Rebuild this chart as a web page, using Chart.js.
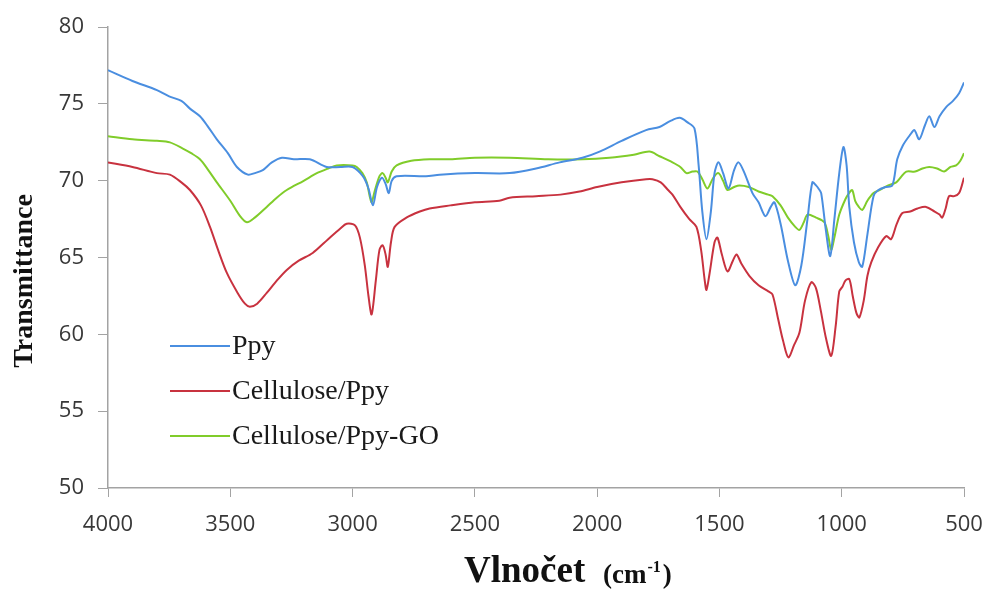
<!DOCTYPE html>
<html>
<head>
<meta charset="utf-8">
<script src="https://cdn.jsdelivr.net/npm/chart.js@4"></script>
<style>
html,body{margin:0;padding:0;background:#fff;}
#wrap{width:988px;height:590px;}
</style>
</head>
<body>
<div id="wrap"><canvas id="ftir" width="988" height="590"></canvas></div>
<script>
/* data: wavenumber (cm-1) and transmittance */
const seriesNames = ["Ppy", "Cellulose/Ppy", "Cellulose/Ppy-GO"];
const xTicks = [4000, 3500, 3000, 2500, 2000, 1500, 1000, 500];
const yTicks = [50, 55, 60, 65, 70, 75, 80];

const ppyWn = [4000,3900,3800,3750,3700,3665,3624,3590,3555,3510,3473,3428,3400,3367,3330,3289,3240,3175,3106,3050,3000,2958,2935,2917,2900,2880,2865,2852,2840,2820,2700,2644,2500,2358,2250,2153,2060,1990,1900,1800,1745,1700,1663,1630,1602,1585,1570,1553,1535,1520,1504,1485,1463,1440,1422,1400,1365,1340,1312,1290,1275,1250,1220,1190,1165,1140,1120,1105,1095,1084,1065,1047,1030,1010,993,980,969,950,930,916,895,870,850,820,793,773,750,720,703,683,660,642,621,600,573,545,520,500];
const ppyT = [77.2,76.5,75.9,75.5,75.2,74.7,74.2,73.5,72.7,71.8,70.9,70.4,70.5,70.7,71.2,71.5,71.4,71.4,70.9,70.9,70.9,70.3,69.5,68.4,69.6,70.2,69.8,69.2,70.0,70.3,70.3,70.4,70.5,70.5,70.8,71.2,71.5,71.9,72.6,73.3,73.5,73.9,74.1,73.8,73.4,71.0,68.0,66.2,68.0,70.5,71.2,70.5,69.5,70.7,71.2,70.6,69.2,68.6,67.7,68.3,68.6,67.2,64.8,63.2,64.5,67.5,69.9,69.7,69.5,69.2,66.8,65.1,67.5,70.5,72.2,71.0,68.3,66.0,64.7,64.4,66.5,69.0,69.4,69.6,69.7,71.4,72.3,73.0,73.3,72.7,73.6,74.2,73.5,74.2,74.8,75.2,75.7,76.4];

const cellWn = [4000,3900,3800,3747,3700,3665,3620,3583,3550,3514,3470,3440,3420,3390,3351,3310,3269,3220,3163,3100,3050,3024,2990,2970,2950,2935,2922,2905,2890,2877,2865,2856,2843,2828,2780,2725,2685,2600,2500,2400,2358,2250,2150,2072,2000,1900,1800,1774,1740,1710,1692,1660,1623,1594,1575,1560,1553,1540,1520,1508,1490,1467,1445,1430,1410,1377,1340,1300,1283,1260,1240,1218,1195,1173,1150,1124,1105,1085,1065,1043,1025,1010,997,985,969,955,940,928,910,895,879,850,818,798,775,752,720,690,655,620,600,589,575,561,540,520,500];
const cellT = [71.2,70.9,70.5,70.4,69.9,69.4,68.4,67.0,65.5,64.0,62.7,62.0,61.8,62.0,62.7,63.5,64.2,64.8,65.3,66.2,66.9,67.2,67.1,66.3,64.5,62.5,61.3,63.5,65.5,65.8,65.2,64.4,66.0,67.0,67.6,68.0,68.2,68.4,68.6,68.7,68.9,69.0,69.1,69.3,69.6,69.9,70.1,70.1,69.9,69.4,69.1,68.3,67.5,67.0,65.5,63.5,62.9,64.0,66.0,66.3,65.2,64.1,64.8,65.2,64.6,63.8,63.2,62.8,62.6,61.0,59.6,58.5,59.3,60.1,62.2,63.4,63.0,61.5,59.8,58.6,60.5,62.8,63.1,63.5,63.6,62.5,61.4,61.1,62.2,63.8,64.7,65.7,66.4,66.2,67.2,67.9,68.0,68.2,68.3,68.0,67.8,67.6,68.2,69.0,69.0,69.2,70.2];

const goWn = [4000,3900,3800,3747,3694,3660,3624,3590,3555,3500,3460,3432,3400,3351,3310,3269,3200,3146,3100,3065,3000,2983,2960,2942,2930,2922,2910,2890,2877,2865,2856,2840,2820,2760,2685,2600,2500,2358,2200,2060,1950,1850,1786,1745,1692,1660,1635,1610,1590,1570,1549,1525,1504,1485,1467,1440,1418,1380,1340,1300,1283,1250,1220,1190,1173,1155,1140,1105,1071,1055,1043,1030,1010,985,970,957,945,930,916,895,870,846,810,777,760,736,700,670,642,610,581,555,532,515,500];
const goT = [72.9,72.7,72.6,72.5,72.1,71.8,71.4,70.7,69.9,68.7,67.7,67.3,67.6,68.3,68.9,69.4,70.0,70.5,70.8,71.0,71.0,70.9,70.5,69.9,69.0,68.6,69.3,70.3,70.5,70.2,69.9,70.6,71.0,71.3,71.4,71.4,71.5,71.5,71.4,71.4,71.5,71.7,71.9,71.6,71.2,70.9,70.5,70.6,70.6,70.1,69.5,70.2,70.5,70.0,69.4,69.6,69.7,69.6,69.3,69.1,69.0,68.4,67.6,67.0,66.8,67.3,67.8,67.6,67.3,66.4,65.5,66.3,67.8,68.8,69.2,69.4,68.7,68.3,68.1,68.7,69.2,69.4,69.7,69.9,70.2,70.6,70.6,70.8,70.9,70.8,70.6,70.9,71.0,71.3,71.8];

const colors = ["#4a8ee0", "#c8323f", "#80cc2a"];

function pts(wn, t){
  return wn.map((w,i)=>({x:w, y:t[i]}));
}

const axisGray = "#a3a3a3";
const tickFont = {family:"'Open Sans', sans-serif", size:22};

/* legend and axis titles drawn by hand to sit where the original has them */
const extras = {
  id:"extras",
  afterDraw(chart){
    const c = chart.ctx;
    c.save();
    // legend
    const rows = [346, 391, 436];
    chart.data.datasets.forEach((ds,i)=>{
      c.strokeStyle = ds.borderColor;
      c.lineWidth = 2;
      c.beginPath();
      c.moveTo(170, rows[i]);
      c.lineTo(230, rows[i]);
      c.stroke();
      c.fillStyle = "#1a1a1a";
      c.font = "28px 'Liberation Serif', serif";
      c.textBaseline = "middle";
      c.textAlign = "left";
      c.fillText(ds.label, 232, rows[i]+1);
    });
    // y title
    c.fillStyle = "#111";
    c.translate(25, 281);
    c.rotate(-Math.PI/2);
    c.font = "bold 28px 'Liberation Serif', serif";
    c.textAlign = "center";
    c.textBaseline = "middle";
    c.fillText("Transmittance", 0, 0);
    c.setTransform(1,0,0,1,0,0);
    // x title
    c.textAlign = "left";
    c.textBaseline = "alphabetic";
    c.font = "bold 37px 'Liberation Serif', serif";
    c.fillText("Vlnočet", 464, 582);
    c.font = "bold 27px 'Liberation Serif', serif";
    c.fillText("(cm", 603, 583);
    let w = c.measureText("(cm").width;
    c.font = "bold 16px 'Liberation Serif', serif";
    c.fillText("-1", 603+w+1, 572);
    let w2 = c.measureText("-1").width;
    c.font = "bold 27px 'Liberation Serif', serif";
    c.fillText(")", 603+w+w2+3, 583);
    c.restore();
  }
};

new Chart(document.getElementById("ftir"),{
  type:"line",
  data:{
    datasets:[
      {label:seriesNames[0], data:pts(ppyWn, ppyT), borderColor:colors[0]},
      {label:seriesNames[1], data:pts(cellWn, cellT), borderColor:colors[1]},
      {label:seriesNames[2], data:pts(goWn, goT), borderColor:colors[2]}
    ]
  },
  options:{
    responsive:false,
    animation:false,
    devicePixelRatio:1,
    layout:{padding:{top:25, right:24, left:0, bottom:0}},
    elements:{
      line:{borderWidth:2, tension:0.3},
      point:{radius:0}
    },
    plugins:{
      legend:{display:false},
      tooltip:{enabled:false}
    },
    scales:{
      x:{
        type:"linear",
        reverse:true,
        min:500, max:4000,
        afterBuildTicks(scale){ scale.ticks = xTicks.map(v=>({value:v})); },
        afterFit(scale){ scale.height = 102; scale.paddingLeft = 0; scale.paddingRight = 0; },
        ticks:{font:tickFont, color:"#383838", padding:15, maxRotation:0, autoSkip:false,
          callback:(v)=>String(v)},
        grid:{drawOnChartArea:false, drawTicks:true, tickLength:9, color:axisGray},
        border:{color:axisGray, width:1.5}
      },
      y:{
        min:50, max:80,
        afterBuildTicks(scale){ scale.ticks = yTicks.map(v=>({value:v})); },
        afterFit(scale){ scale.width = 108; },
        ticks:{font:tickFont, color:"#383838", padding:14, callback:(v)=>String(v)},
        grid:{drawOnChartArea:false, drawTicks:true, tickLength:10, color:axisGray},
        border:{color:axisGray, width:1.5}
      }
    }
  },
  plugins:[extras]
});
</script>
</body>
</html>
